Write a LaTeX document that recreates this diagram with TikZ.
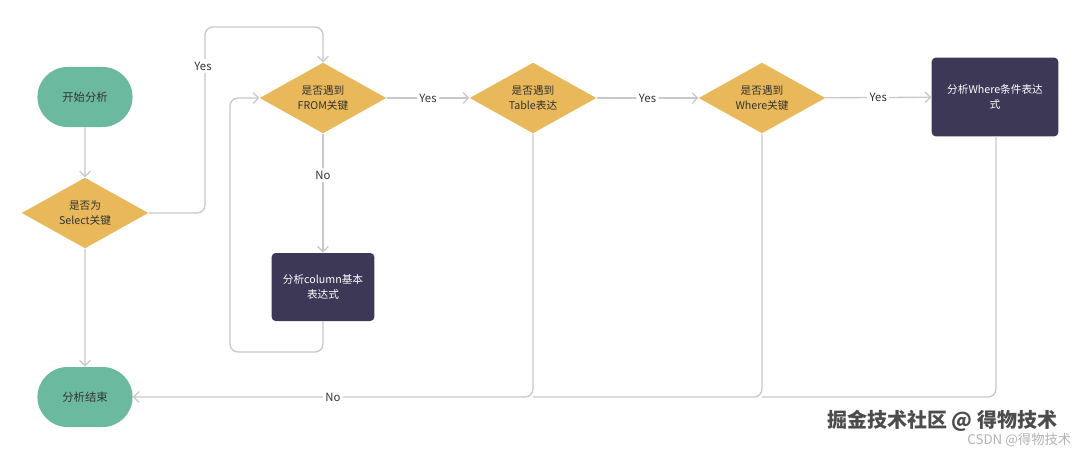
\documentclass[tikz,border=0pt]{standalone}
\usepackage{fontspec}
\setmainfont{Noto Sans CJK SC}
\usetikzlibrary{shapes.geometric,shapes.misc,arrows.meta}
\definecolor{grn}{HTML}{6BBAA0}
\definecolor{yel}{HTML}{E9B85A}
\definecolor{dark}{HTML}{3D3855}
\definecolor{ln}{HTML}{C8C8CC}
\definecolor{txt}{HTML}{333333}
\tikzset{
  term/.style={rounded rectangle, fill=grn, minimum width=78pt, minimum height=45pt, text=txt, font=\fontsize{8.5}{10}\selectfont},
  dec/.style={diamond, fill=yel, aspect=1.8, minimum width=95pt, minimum height=53pt, inner sep=0pt, text=txt, align=center, font=\fontsize{8}{11}\selectfont},
  proc/.style={rectangle, rounded corners=3pt, fill=dark, text=white, align=center, font=\fontsize{8}{11}\selectfont},
  conn/.style={draw=ln, line width=1pt, rounded corners=6pt, -{Straight Barb[length=4pt,width=8pt]}},
  plain/.style={draw=ln, line width=1pt, rounded corners=6pt},
  lab/.style={fill=white, inner sep=2pt, text=txt, font=\fontsize{8.5}{10}\selectfont}
}
\begin{document}
\begin{tikzpicture}[x=0.75pt,y=-0.75pt]
\useasboundingbox (0,0) rectangle (1080,453);
\node[term] (start) at (85,97) {开始分析};
\node[dec] (d1) at (85,213) {是否为\\Select关键};
\node[term] (end) at (85,397) {分析结束};
\node[dec] (d2) at (323,98) {是否遇到\\FROM关键};
\node[dec] (d3) at (533,98) {是否遇到\\Table表达};
\node[dec] (d4) at (762,98) {是否遇到\\Where关键};
\node[proc, minimum width=95pt, minimum height=59pt, text width=88pt] (bw) at (995,97) {分析Where条件表达\\式};
\node[proc, minimum width=77pt, minimum height=51pt] (bc) at (323,287) {分析column基本\\表达式};
\coordinate (c1) at (205,213);
\coordinate (c2) at (205,27);
\coordinate (c3) at (323,27);
\coordinate (c4) at (323,352);
\coordinate (c5) at (230,352);
\coordinate (c6) at (230,98);
\coordinate (e3) at (533,397);
\coordinate (e4) at (762,397);
\coordinate (ew) at (996,397);
\draw[conn] (start) -- (d1);
\draw[conn] (d1) -- (end);
\draw[conn] (d1.east) -- (c1) -- (c2) -- (c3) -- (d2.north);
\node[lab] at (203,66) {Yes};
\draw[conn] (d2) -- node[lab]{Yes} (d3);
\draw[conn] (d3) -- node[lab]{Yes} (d4);
\draw[conn] (d4) -- node[lab]{Yes} (bw);
\draw[conn] (d2) -- node[lab,pos=0.35]{No} (bc);
\draw[conn] (bc.south) -- (c4) -- (c5) -- (c6) -- (d2.west);
\draw[plain] (bw.south -| ew) -- (ew) -- (e4);
\draw[plain] (d4.south) -- (e4) -- (e3);
\draw[conn] (d3.south) -- (e3) -- node[lab,pos=0.5]{No} (end.east);
\node[text=gray!60, font=\fontsize{10}{12}\selectfont, anchor=east] (wm2) at (1076,440) {CSDN @得物技术};
\node[text=black!70, font=\fontsize{15}{18}\selectfont\bfseries, anchor=east] (wm) at (1062,421) {掘金技术社区 @ 得物技术};
\end{tikzpicture}
\end{document}
